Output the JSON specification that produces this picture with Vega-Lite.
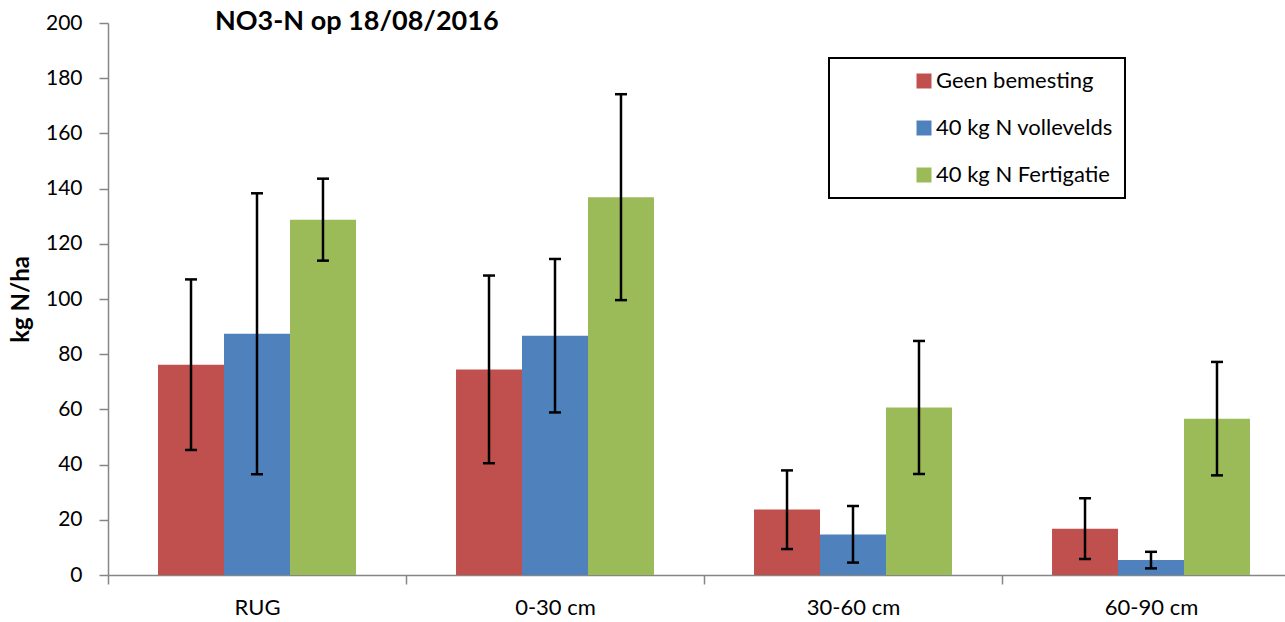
{
  "$schema": "https://vega.github.io/schema/vega-lite/v6.json",
  "width": 1177,
  "height": 552,
  "autosize": {"type": "none"},
  "padding": {"left": 108, "top": 23, "right": 0, "bottom": 47},
  "background": "white",
  "config": {"view": {"stroke": null}, "font": "Lato"},
  "title": {"text": "NO3-N op 18/08/2016", "anchor": "start", "frame": "group", "dx": 107, "dy": 28, "fontSize": 27, "fontWeight": "bold", "color": "black", "font": "Lato"},
  "data": {"values": [
    {"depth": "RUG", "series": "Geen bemesting", "value": 76.2, "lo": 45.3, "hi": 107.1},
    {"depth": "RUG", "series": "40 kg N vollevelds", "value": 87.4, "lo": 36.5, "hi": 138.3},
    {"depth": "RUG", "series": "40 kg N Fertigatie", "value": 128.7, "lo": 113.9, "hi": 143.6},
    {"depth": "0-30 cm", "series": "Geen bemesting", "value": 74.5, "lo": 40.5, "hi": 108.5},
    {"depth": "0-30 cm", "series": "40 kg N vollevelds", "value": 86.7, "lo": 58.9, "hi": 114.5},
    {"depth": "0-30 cm", "series": "40 kg N Fertigatie", "value": 136.9, "lo": 99.6, "hi": 174.2},
    {"depth": "30-60 cm", "series": "Geen bemesting", "value": 23.7, "lo": 9.4, "hi": 37.9},
    {"depth": "30-60 cm", "series": "40 kg N vollevelds", "value": 14.7, "lo": 4.5, "hi": 25.0},
    {"depth": "30-60 cm", "series": "40 kg N Fertigatie", "value": 60.7, "lo": 36.6, "hi": 84.8},
    {"depth": "60-90 cm", "series": "Geen bemesting", "value": 16.8, "lo": 5.8, "hi": 27.8},
    {"depth": "60-90 cm", "series": "40 kg N vollevelds", "value": 5.4, "lo": 2.4, "hi": 8.4},
    {"depth": "60-90 cm", "series": "40 kg N Fertigatie", "value": 56.6, "lo": 36.1, "hi": 77.2}
  ]},
  "encoding": {
    "x": {
      "field": "depth", "type": "nominal",
      "sort": ["RUG", "0-30 cm", "30-60 cm", "60-90 cm"],
      "scale": {"rangeMax": 1192, "paddingInner": 0, "paddingOuter": 0},
      "axis": {"title": null, "labelAngle": 0, "tickBand": "extent", "domainColor": "#868686", "domainWidth": 1.5, "tickColor": "#868686", "tickWidth": 1.5, "tickSize": 9, "labelFontSize": 22, "labelColor": "black", "labelPadding": 13}
    },
    "xOffset": {
      "field": "series", "type": "nominal",
      "sort": ["Geen bemesting", "40 kg N vollevelds", "40 kg N Fertigatie"],
      "scale": {"paddingInner": 0, "paddingOuter": 0.758}
    }
  },
  "layer": [
    {
      "mark": {"type": "bar"},
      "encoding": {
        "y": {
          "field": "value", "type": "quantitative",
          "scale": {"domain": [0, 200], "nice": false},
          "axis": {"title": "kg N/ha", "titleFontSize": 24, "titleFontWeight": "bold", "titleColor": "black", "titlePadding": 12, "values": [0, 20, 40, 60, 80, 100, 120, 140, 160, 180, 200], "grid": false, "domainColor": "#868686", "domainWidth": 1.5, "tickColor": "#868686", "tickWidth": 1.5, "tickSize": 9, "labelFontSize": 21, "labelColor": "black", "labelPadding": 17}
        },
        "color": {
          "field": "series", "type": "nominal",
          "sort": ["Geen bemesting", "40 kg N vollevelds", "40 kg N Fertigatie"],
          "scale": {"domain": ["Geen bemesting", "40 kg N vollevelds", "40 kg N Fertigatie"], "range": ["#C0504D", "#4F81BD", "#9BBB59"]},
          "legend": {"orient": "none", "legendX": 721, "legendY": 35, "title": null, "symbolType": "square", "symbolSize": 225, "symbolOffset": 72, "labelOffset": 1, "labelFontSize": 22, "labelLimit": 400, "labelColor": "black", "rowPadding": 25, "padding": 12, "strokeColor": "black", "symbolStrokeWidth": 0, "symbolOpacity": 1,
            "encode": {"legend": {"update": {"stroke": {"value": "black"}, "strokeWidth": {"value": 2}}}}}
        }
      }
    },
    {
      "mark": {"type": "rule", "color": "black", "strokeWidth": 2.5},
      "encoding": {"y": {"field": "lo", "type": "quantitative"}, "y2": {"field": "hi"}}
    },
    {
      "mark": {"type": "tick", "color": "black", "thickness": 2.5, "size": 12, "opacity": 1},
      "encoding": {"y": {"field": "lo", "type": "quantitative"}}
    },
    {
      "mark": {"type": "tick", "color": "black", "thickness": 2.5, "size": 12, "opacity": 1},
      "encoding": {"y": {"field": "hi", "type": "quantitative"}}
    }
  ]
}
